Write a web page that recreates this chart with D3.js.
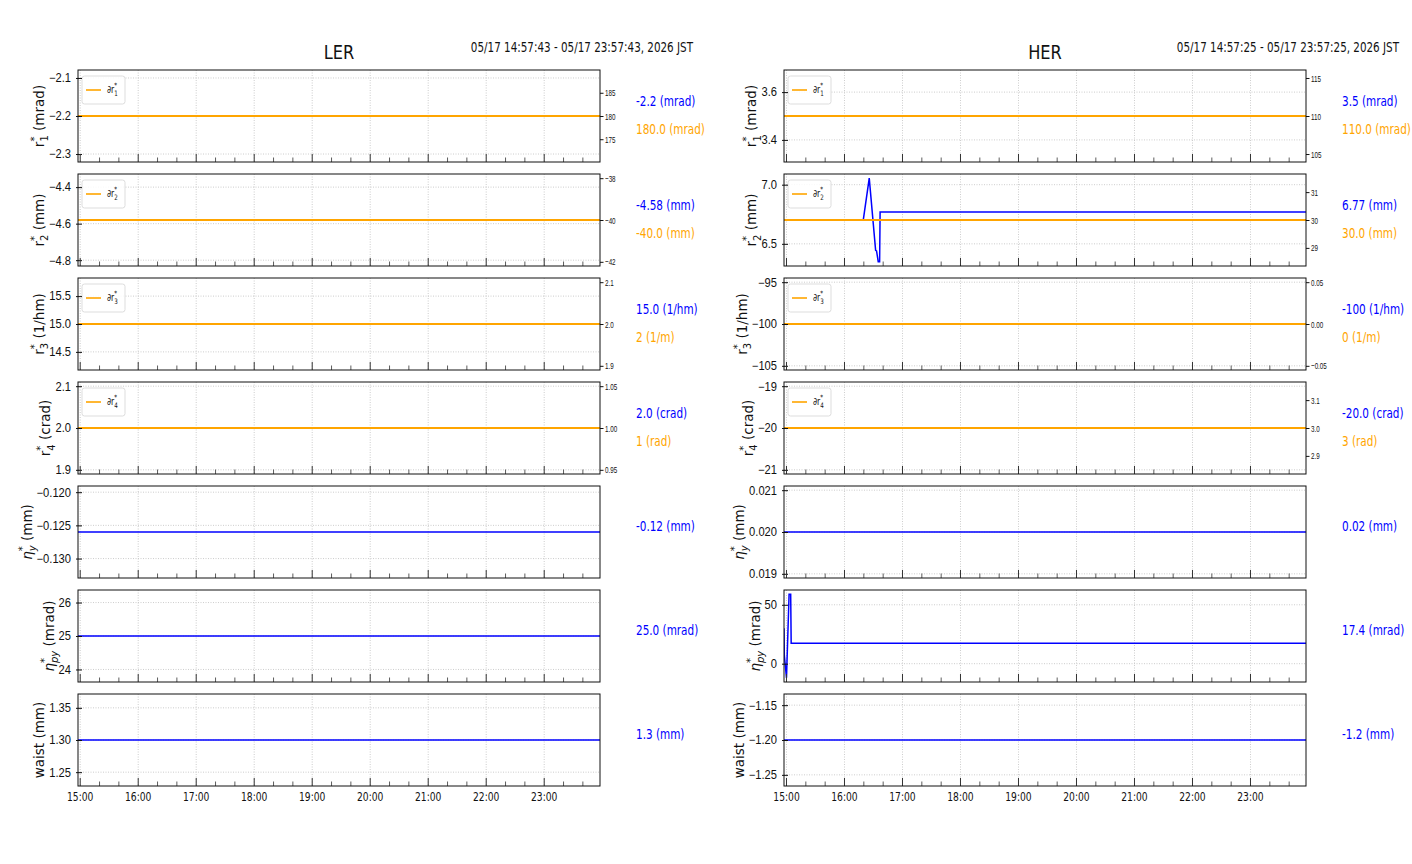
<!DOCTYPE html>
<html>
<head>
<meta charset="utf-8">
<script src="https://cdn.jsdelivr.net/npm/d3@7"></script>
<style>
  body { margin: 0; background: #fff; }
  svg text { font-family: "Liberation Sans Narrow", "Arial Narrow", "DejaVu Sans Condensed", sans-serif; fill: #111; }
  svg text.ylab { font-family: "DejaVu Sans", sans-serif; }
</style>
</head>
<body>
<div id="chart"></div>
<script>
// ---- data ----
const ringNames = ["LER", "HER"];
const timeRanges = [
  ["2026-05-17T14:57:43", "2026-05-17T23:57:43"],
  ["2026-05-17T14:57:25", "2026-05-17T23:57:25"]
];
const rangeTitles = [
  "05/17 14:57:43 - 05/17 23:57:43, 2026 JST",
  "05/17 14:57:25 - 05/17 23:57:25, 2026 JST"
];

// y-axis labels, one per row
const rowLabels = [
  { base: "r", sub: "1", unit: "(mrad)" },
  { base: "r", sub: "2", unit: "(mm)" },
  { base: "r", sub: "3", unit: "(1/hm)" },
  { base: "r", sub: "4", unit: "(crad)" },
  { base: "η", sub: "y", unit: "(mm)", italic: true },
  { base: "η", sub: "py", unit: "(mrad)", italic: true },
  { base: "waist", unit: "(mm)" }
];
const legendSubs = ["1", "2", "3", "4"];

// blue series (constant over the window unless a time series is given)
const lerBlue = [-2.2, -4.58, 15.0, 2.0, -0.126, 25.0, 1.3];
const herBlue = [3.5, null, -100, -20, 0.02, null, -1.2];
const herR2Times  = ["14:57:25", "16:19:24", "16:25:36", "16:32:12", "16:33:10", "16:34:54", "16:36:20", "16:36:50", "23:57:25"];
const herR2Values = [6.70, 6.70, 7.055, 6.445, 6.44, 6.348, 6.348, 6.77, 6.77];
const herPyTimes  = ["14:57:25", "14:57:45", "15:00:00", "15:02:40", "15:04:20", "15:04:50", "23:57:25"];
const herPyValues = [30, 7, -12, 59, 59, 17.4, 17.4];

// orange (twin axis) constants, rows 1-4
const lerOrange = [180, -40, 2, 1];
const herOrange = [110, 30, 0, 3];

// text at the right of each panel
const lerBlueText = ["-2.2 (mrad)", "-4.58 (mm)", "15.0 (1/hm)", "2.0 (crad)", "-0.12 (mm)", "25.0 (mrad)", "1.3 (mm)"];
const lerOrangeText = ["180.0 (mrad)", "-40.0 (mm)", "2 (1/m)", "1 (rad)"];
const herBlueText = ["3.5 (mrad)", "6.77 (mm)", "-100 (1/hm)", "-20.0 (crad)", "0.02 (mm)", "17.4 (mrad)", "-1.2 (mm)"];
const herOrangeText = ["110.0 (mrad)", "30.0 (mm)", "0 (1/m)", "3 (rad)"];

// tick labels
const lerLeftTicks = [[-2.1, -2.2, -2.3], [-4.4, -4.6, -4.8], [15.5, 15.0, 14.5], [2.1, 2.0, 1.9], [-0.120, -0.125, -0.130], [26, 25, 24], [1.35, 1.30, 1.25]];
const lerLeftFmt = [".1f", ".1f", ".1f", ".1f", ".3f", "d", ".2f"];
const lerRightTicks = [[185, 180, 175], [-38, -40, -42], [2.1, 2.0, 1.9], [1.05, 1.00, 0.95]];
const lerRightFmt = ["d", "d", ".1f", ".2f"];
const herLeftTicks = [[3.6, 3.4], [7.0, 6.5], [-95, -100, -105], [-19, -20, -21], [0.021, 0.020, 0.019], [50, 0], [-1.15, -1.20, -1.25]];
const herLeftFmt = [".1f", ".1f", "d", "d", ".3f", "d", ".2f"];
const herRightTicks = [[115, 110, 105], [31, 30, 29], [0.05, 0.00, -0.05], [3.1, 3.0, 2.9]];
const herRightFmt = ["d", "d", ".2f", ".1f"];

// ---- layout ----
const width = 1412, height = 864;
const plotLeft = [78, 784];
const plotW = 522, rowTop = 70, rowStep = 104, rowH = 92;
const blue = "#0000ff", orange = "#ffa500";

const svg = d3.select("#chart").append("svg")
  .attr("width", width).attr("height", height);

const parseT = d3.timeParse("%Y-%m-%dT%H:%M:%S");

// matplotlib-like autoscale: expand flat data, then 5% margins
function autoDomain(vals) {
  let lo = d3.min(vals), hi = d3.max(vals);
  if (hi - lo < 1e-12) {
    if (lo === 0) { lo = -0.05; hi = 0.05; }
    else { lo -= 0.05 * Math.abs(lo); hi += 0.05 * Math.abs(hi); }
  }
  const m = 0.05 * (hi - lo);
  return [lo - m, hi + m];
}

// squeeze text horizontally (no narrow font installed)
function condense(sel, k) {
  sel.each(function () {
    const x = +(this.getAttribute("x") || 0);
    const tr = this.getAttribute("transform") || "";
    this.setAttribute("x", x / k);
    this.setAttribute("transform", (tr + ` scale(${k},1)`).trim());
  });
}

function starLabel(text, spec, size, subSize) {
  text.append("tspan").text(spec.base).attr("font-style", spec.italic ? "italic" : null);
  if (spec.sub) {
    const sub = text.append("tspan").attr("dy", size * 0.3).attr("font-size", subSize)
      .attr("font-style", spec.italic ? "italic" : null).text(spec.sub);
    const subW = sub.node().getComputedTextLength();
    const sup = text.append("tspan").attr("dx", -subW).attr("dy", -size * 0.75)
      .attr("font-size", subSize).text("*");
    const supW = sup.node().getComputedTextLength();
    text.append("tspan").attr("dx", Math.max(0, subW - supW)).attr("dy", size * 0.45)
      .text(spec.unit ? "\u00a0" + spec.unit : "");
  } else if (spec.unit) {
    text.append("tspan").text("\u00a0" + spec.unit);
  }
}

ringNames.forEach((ring, r) => {
  const x0 = plotLeft[r];
  const t0 = parseT(timeRanges[r][0]), t1 = parseT(timeRanges[r][1]);
  const day = timeRanges[r][0].slice(0, 11);
  const blueVals = r === 0 ? lerBlue : herBlue;
  const orangeVals = r === 0 ? lerOrange : herOrange;
  const blueText = r === 0 ? lerBlueText : herBlueText;
  const orangeText = r === 0 ? lerOrangeText : herOrangeText;
  const leftTicks = r === 0 ? lerLeftTicks : herLeftTicks;
  const leftFmt = r === 0 ? lerLeftFmt : herLeftFmt;
  const rightTicks = r === 0 ? lerRightTicks : herRightTicks;
  const rightFmt = r === 0 ? lerRightFmt : herRightFmt;

  // titles
  svg.append("text").attr("x", x0 + plotW / 2).attr("y", 59)
    .attr("text-anchor", "middle").attr("font-size", 20).text(ring)
    .call(condense, 0.9);
  svg.append("text").attr("x", x0 + plotW + 93).attr("y", 52)
    .attr("text-anchor", "end").attr("font-size", 13.5).text(rangeTitles[r])
    .call(condense, 0.855);

  const x = d3.scaleTime().domain([t0, t1]).range([0, plotW]);
  const hours = x.ticks(d3.timeHour.every(1));
  const minors = x.ticks(d3.timeMinute.every(20));

  rowLabels.forEach((lab, i) => {
    const g = svg.append("g").attr("transform", `translate(${x0},${rowTop + i * rowStep})`);

    let series;
    if (blueVals[i] !== null) {
      series = [[t0, blueVals[i]], [t1, blueVals[i]]];
    } else if (i === 1) {
      series = herR2Times.map((t, k) => [parseT(day + t), herR2Values[k]]);
    } else {
      series = herPyTimes.map((t, k) => [parseT(day + t), herPyValues[k]]);
    }
    const y = d3.scaleLinear().domain(autoDomain(series.map(d => d[1]))).range([rowH, 0]);

    const clipId = `clip-${r}-${i}`;
    g.append("clipPath").attr("id", clipId).append("rect").attr("width", plotW).attr("height", rowH);

    // grid
    g.append("g").selectAll("line").data(hours).join("line")
      .attr("x1", d => x(d)).attr("x2", d => x(d)).attr("y1", 0).attr("y2", rowH)
      .attr("stroke", "#c0c0c0").attr("stroke-width", 0.8).attr("stroke-dasharray", "1,1.5");
    g.append("g").selectAll("line").data(leftTicks[i]).join("line")
      .attr("x1", 0).attr("x2", plotW).attr("y1", d => y(d)).attr("y2", d => y(d))
      .attr("stroke", "#c0c0c0").attr("stroke-width", 0.8).attr("stroke-dasharray", "1,1.5");

    const line = d3.line().x(d => x(d[0])).y(d => y(d[1]));
    g.append("path").datum(series).attr("clip-path", `url(#${clipId})`)
      .attr("d", line).attr("fill", "none").attr("stroke", blue).attr("stroke-width", 1.5);

    // twin axis (orange)
    if (i < 4) {
      const yR = d3.scaleLinear().domain(autoDomain([orangeVals[i]])).range([rowH, 0]);
      g.append("path").datum([[t0, orangeVals[i]], [t1, orangeVals[i]]])
        .attr("d", d3.line().x(d => x(d[0])).y(d => yR(d[1])))
        .attr("fill", "none").attr("stroke", orange).attr("stroke-width", 2.2);
      const ra = g.append("g").attr("transform", `translate(${plotW},0)`)
        .call(d3.axisRight(yR).tickValues(rightTicks[i]).tickFormat(d3.format(rightFmt[i]))
          .tickSize(3.5).tickPadding(1.5));
      ra.select(".domain").remove();
      ra.selectAll("line").attr("stroke", "#111");
      ra.selectAll("text").attr("font-size", 9.5).style("font-family", "inherit").call(condense, 0.66);

      // legend
      const lg = g.append("g").attr("transform", "translate(4,6)");
      lg.append("rect").attr("width", 43).attr("height", 28).attr("rx", 2.5)
        .attr("fill", "#fff").attr("fill-opacity", 0.85).attr("stroke", "#d4d4d4").attr("stroke-width", 0.8);
      lg.append("line").attr("x1", 4).attr("x2", 19).attr("y1", 14).attr("y2", 14)
        .attr("stroke", orange).attr("stroke-width", 1.6);
      const lt = lg.append("text").attr("x", 25).attr("y", 17).attr("font-size", 10.5);
      starLabel(lt, { base: "\u2202r", sub: legendSubs[i] }, 10.5, 7.5);
      condense(lt, 0.82);

      g.append("text").attr("x", plotW + 36).attr("y", 36).attr("font-size", 14)
        .style("fill", blue).text(blueText[i]).call(condense, 0.83);
      g.append("text").attr("x", plotW + 36).attr("y", 64).attr("font-size", 14)
        .style("fill", orange).text(orangeText[i]).call(condense, 0.83);
    } else {
      g.append("text").attr("x", plotW + 36).attr("y", 45).attr("font-size", 14)
        .style("fill", blue).text(blueText[i]).call(condense, 0.83);
    }

    // left axis
    const la = g.append("g")
      .call(d3.axisLeft(y).tickValues(leftTicks[i]).tickFormat(d3.format(leftFmt[i]))
        .tickSize(4).tickPadding(3));
    la.select(".domain").remove();
    la.selectAll("line").attr("x1", 4).attr("x2", -2).attr("stroke", "#111");
    la.selectAll("text").attr("font-size", 12).style("font-family", "inherit").call(condense, 0.93);

    // bottom ticks, inward
    g.append("g").selectAll("line").data(minors).join("line")
      .attr("x1", d => x(d)).attr("x2", d => x(d))
      .attr("y1", rowH).attr("y2", d => rowH - (d.getMinutes() === 0 ? 8 : 4.5))
      .attr("stroke", "#333").attr("stroke-width", d => d.getMinutes() === 0 ? 1 : 0.8);
    if (i === rowLabels.length - 1) {
      g.append("g").selectAll("text").data(hours).join("text")
        .attr("x", d => x(d)).attr("y", rowH + 15).attr("text-anchor", "middle")
        .attr("font-size", 12).text(d3.timeFormat("%H:%M"))
        .call(condense, 0.85);
    }

    // frame
    g.append("rect").attr("width", plotW).attr("height", rowH)
      .attr("fill", "none").attr("stroke", "#111").attr("stroke-width", 1);

    // y label placed left of the tick labels
    const bb = la.node().getBBox();
    const yl = g.append("text").attr("class", "ylab").attr("font-size", 13.5)
      .attr("text-anchor", "middle")
      .attr("transform", `translate(${bb.x - 5},${rowH / 2}) rotate(-90)`);
    starLabel(yl, lab, 13.5, 10);
  });
});
</script>
</body>
</html>
